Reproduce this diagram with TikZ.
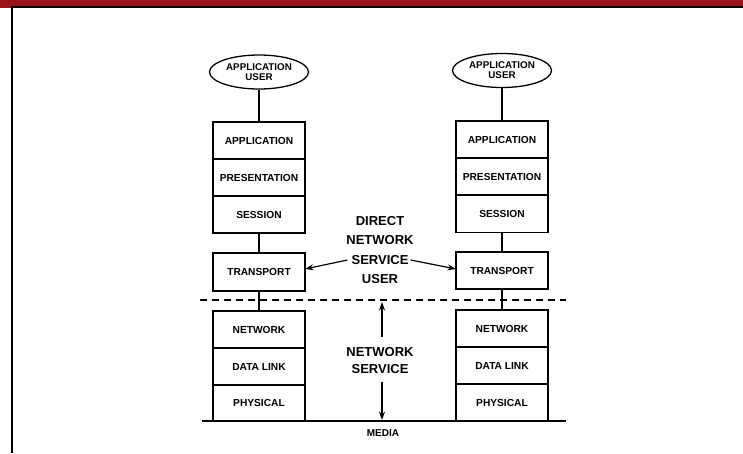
\documentclass[tikz,border=0pt]{standalone}
\usepackage{fontspec}
\setmainfont{Liberation Sans}
\usetikzlibrary{shapes.geometric,arrows.meta,calc}
\definecolor{barred}{RGB}{152,18,28}
\begin{document}
\begin{tikzpicture}[x=1pt,y=-1pt,
  layer/.style={draw, line width=1.3pt, minimum width=92pt, minimum height=37pt,
    inner sep=0pt, outer sep=0pt, font=\fontsize{10.2}{10}\selectfont\bfseries},
  user/.style={ellipse, draw, line width=1.3pt, minimum width=99pt, minimum height=34pt,
    inner sep=0pt, align=center, font=\fontsize{9.8}{10}\selectfont\bfseries},
  big/.style={inner sep=0pt, font=\fontsize{13}{15}\selectfont\bfseries},
  link/.style={line width=1.3pt},
  pointer/.style={line width=1.2pt, -{Stealth[length=8.5pt,width=6pt]}}]

\useasboundingbox (0,0) rectangle (743,453);

% frame: red header bar and black border
\fill[barred] (0,0) rectangle (743,6);
\fill[barred] (0,0) rectangle (11,8);
\draw[line width=2pt] (743,6.5) -- (12,6.5) -- (12,453);

% left protocol stack
\node[user] (lu) at (259,72) {APPLICATION\\USER};
\node[layer] (la) at (259,140.5) {APPLICATION};
\node[layer] (lp) at (259,177.5) {PRESENTATION};
\node[layer] (ls) at (259,214.5) {SESSION};
\node[layer, minimum height=38pt] (lt) at (259,272) {TRANSPORT};
\node[layer] (ln) at (259,329.5) {NETWORK};
\node[layer] (ld) at (259,366.5) {DATA LINK};
\node[layer] (lph) at (259,403) {PHYSICAL};

% right protocol stack
\node[user] (ru) at (502,70.5) {APPLICATION\\USER};
\node[layer] (ra) at (502,139.5) {APPLICATION};
\node[layer] (rp) at (502,176.5) {PRESENTATION};
\node[layer] (rs) at (502,214) {SESSION};
\node[layer] (rt) at (502,270.5) {TRANSPORT};
\node[layer] (rn) at (502,328.5) {NETWORK};
\node[layer] (rd) at (502,365.5) {DATA LINK};
\node[layer] (rph) at (502,402.5) {PHYSICAL};

% vertical links inside each stack
\draw[link] (lu) -- (la);
\draw[link] (ls) -- (lt);
\draw[link] (lt) -- (ln);
\draw[link] (ru) -- (ra);
\draw[link] (rs) -- (rt);
\draw[link] (rt) -- (rn);

% service boundary and media
\coordinate (dashL) at (200,300);
\coordinate (dashR) at (566,300);
\draw[line width=1.6pt, dash pattern=on 7pt off 5pt] (dashL) -- (dashR);
\coordinate (mediaL) at (202,421);
\coordinate (mediaR) at (566,421);
\draw[line width=2pt] (mediaL) -- (mediaR);
\node[inner sep=0pt, font=\fontsize{10}{10}\selectfont\bfseries] (media) at (383,433.5) {MEDIA};

% direct network service user
\node[big] (d1) at (380,221) {DIRECT};
\node[big] (d2) at (380,240.5) {NETWORK};
\node[big] (d3) at (380,260) {SERVICE};
\node[big] (d4) at (380,279) {USER};
\draw[pointer] ($(d3.west)+(-4,0)$) -- ($(lt.east)+(0,-3)$);
\draw[pointer] ($(d3.east)+(2,0)$) -- ($(rt.west)+(0,-1.5)$);

% network service
\node[big] (n1) at (380,352) {NETWORK};
\node[big] (n2) at (380,369.5) {SERVICE};
\draw[pointer] ($(n1.north)+(2,-10)$) -- ($(n1.north |- dashL)+(2,2)$);
\draw[pointer] ($(n2.south)+(2,8)$) -- ($(n2.south |- mediaL)+(2,-1)$);
\end{tikzpicture}
\end{document}
